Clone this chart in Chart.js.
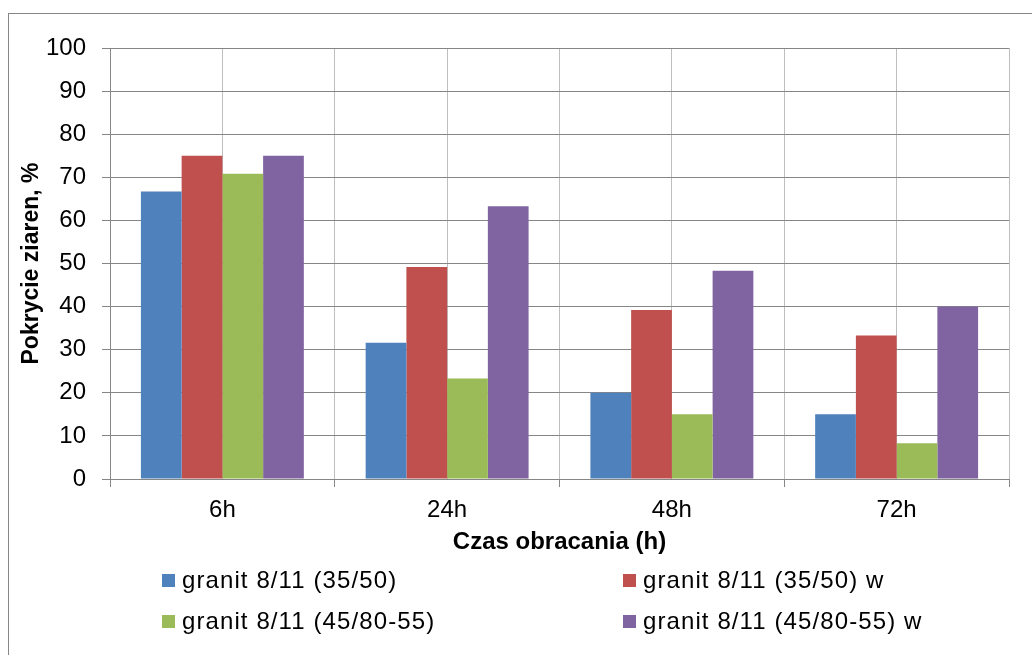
<!DOCTYPE html>
<html>
<head>
<meta charset="utf-8">
<script src="https://cdn.jsdelivr.net/npm/chart.js@4/dist/chart.umd.min.js"></script>
<style>
  html, body { margin: 0; padding: 0; background: #fff; }
  #wrap { position: relative; width: 1032px; height: 655px; overflow: hidden; }
  #frame { position: absolute; left: 8px; top: 13px; width: 1100px; height: 700px;
           border: 1px solid #868686; box-sizing: border-box; }
  #c { position: absolute; left: 0; top: 0; }
  .lg { position: absolute; display: flex; align-items: center; height: 24px;
        font: 24px "Liberation Sans", Arial, sans-serif; letter-spacing: 1.1px;
        color: #000; white-space: nowrap; }
  .lg i { display: inline-block; width: 13px; height: 13px; margin-right: 7px; }
</style>
</head>
<body>
<div id="wrap">
  <div id="frame"></div>
  <canvas id="c" width="1032" height="655"></canvas>
  <div id="legend"></div>
</div>
<script>
// Rotation time categories
const categories = ['6h', '24h', '48h', '72h'];

// Grain coverage (%) per binder
const granit3550 = [66.7, 31.6, 20.0, 15.0];
const granit3550w = [75.0, 49.2, 39.2, 33.3];
const granit4580 = [70.8, 23.3, 15.0, 8.3];
const granit4580w = [75.0, 63.3, 48.3, 40.0];

const seriesNames = [
  'granit 8/11 (35/50)',
  'granit 8/11 (35/50) w',
  'granit 8/11 (45/80-55)',
  'granit 8/11 (45/80-55) w'
];
const seriesColors = ['#4F81BD', '#C0504D', '#9BBB59', '#8064A2'];
const seriesValues = [granit3550, granit3550w, granit4580, granit4580w];

const yTicks = { min: 0, max: 100, step: 10 };

const FONT = '"Liberation Sans", Arial, sans-serif';

const canvas = document.getElementById('c');
// slightly wider lettering for all canvas text
canvas.getContext('2d').letterSpacing = '1px';

const chart = new Chart(canvas, {
  type: 'bar',
  data: {
    labels: categories,
    datasets: seriesValues.map((v, i) => ({
      label: seriesNames[i],
      data: v,
      backgroundColor: seriesColors[i],
      borderWidth: 0,
      categoryPercentage: 0.725,
      barPercentage: 1.0
    }))
  },
  options: {
    responsive: false,
    animation: false,
    layout: { padding: { top: 48, right: 23, bottom: 0, left: 10 } },
    plugins: { legend: { display: false }, tooltip: { enabled: false } },
    scales: {
      x: {
        grid: { offset: true, color: '#BEBEBE', lineWidth: 1, tickLength: 8, tickColor: '#868686' },
        border: { color: '#868686', width: 1 },
        ticks: { color: '#000', font: { family: FONT, size: 24 }, padding: 9 },
        title: {
          display: true, text: 'Czas obracania (h)', color: '#000',
          font: { family: FONT, size: 24, weight: 'bold' },
          padding: { top: 4, bottom: 98 }
        },
        afterFit: (s) => { s.height = 176; }
      },
      xMid: {
        type: 'category',
        position: 'top',
        labels: categories,
        offset: true,
        grid: { offset: false, color: '#BEBEBE', lineWidth: 1, drawTicks: false },
        border: { display: false },
        ticks: { display: false },
        afterFit: (s) => { s.height = 0; }
      },
      y: {
        min: yTicks.min, max: yTicks.max,
        grid: { color: '#868686', lineWidth: 1, tickLength: 8, tickColor: '#868686' },
        border: { color: '#868686', width: 1 },
        ticks: { stepSize: yTicks.step, color: '#000', font: { family: FONT, size: 24 }, padding: 16 },
        title: {
          display: true, text: 'Pokrycie ziaren, %', color: '#000',
          font: { family: FONT, size: 23, weight: 'bold' },
          padding: { top: 8, bottom: 4 }
        },
        afterFit: (s) => { s.width = 100; }
      }
    }
  }
});

// Two-column legend built from the chart's datasets
const legendPos = [
  { left: 162, top: 568 }, { left: 623, top: 568 },
  { left: 162, top: 609 }, { left: 623, top: 609 }
];
const legendEl = document.getElementById('legend');
chart.data.datasets.forEach((ds, i) => {
  const item = document.createElement('div');
  item.className = 'lg';
  item.style.left = legendPos[i].left + 'px';
  item.style.top = legendPos[i].top + 'px';
  const sw = document.createElement('i');
  sw.style.background = ds.backgroundColor;
  item.appendChild(sw);
  item.appendChild(document.createTextNode(ds.label));
  legendEl.appendChild(item);
});
</script>
</body>
</html>
